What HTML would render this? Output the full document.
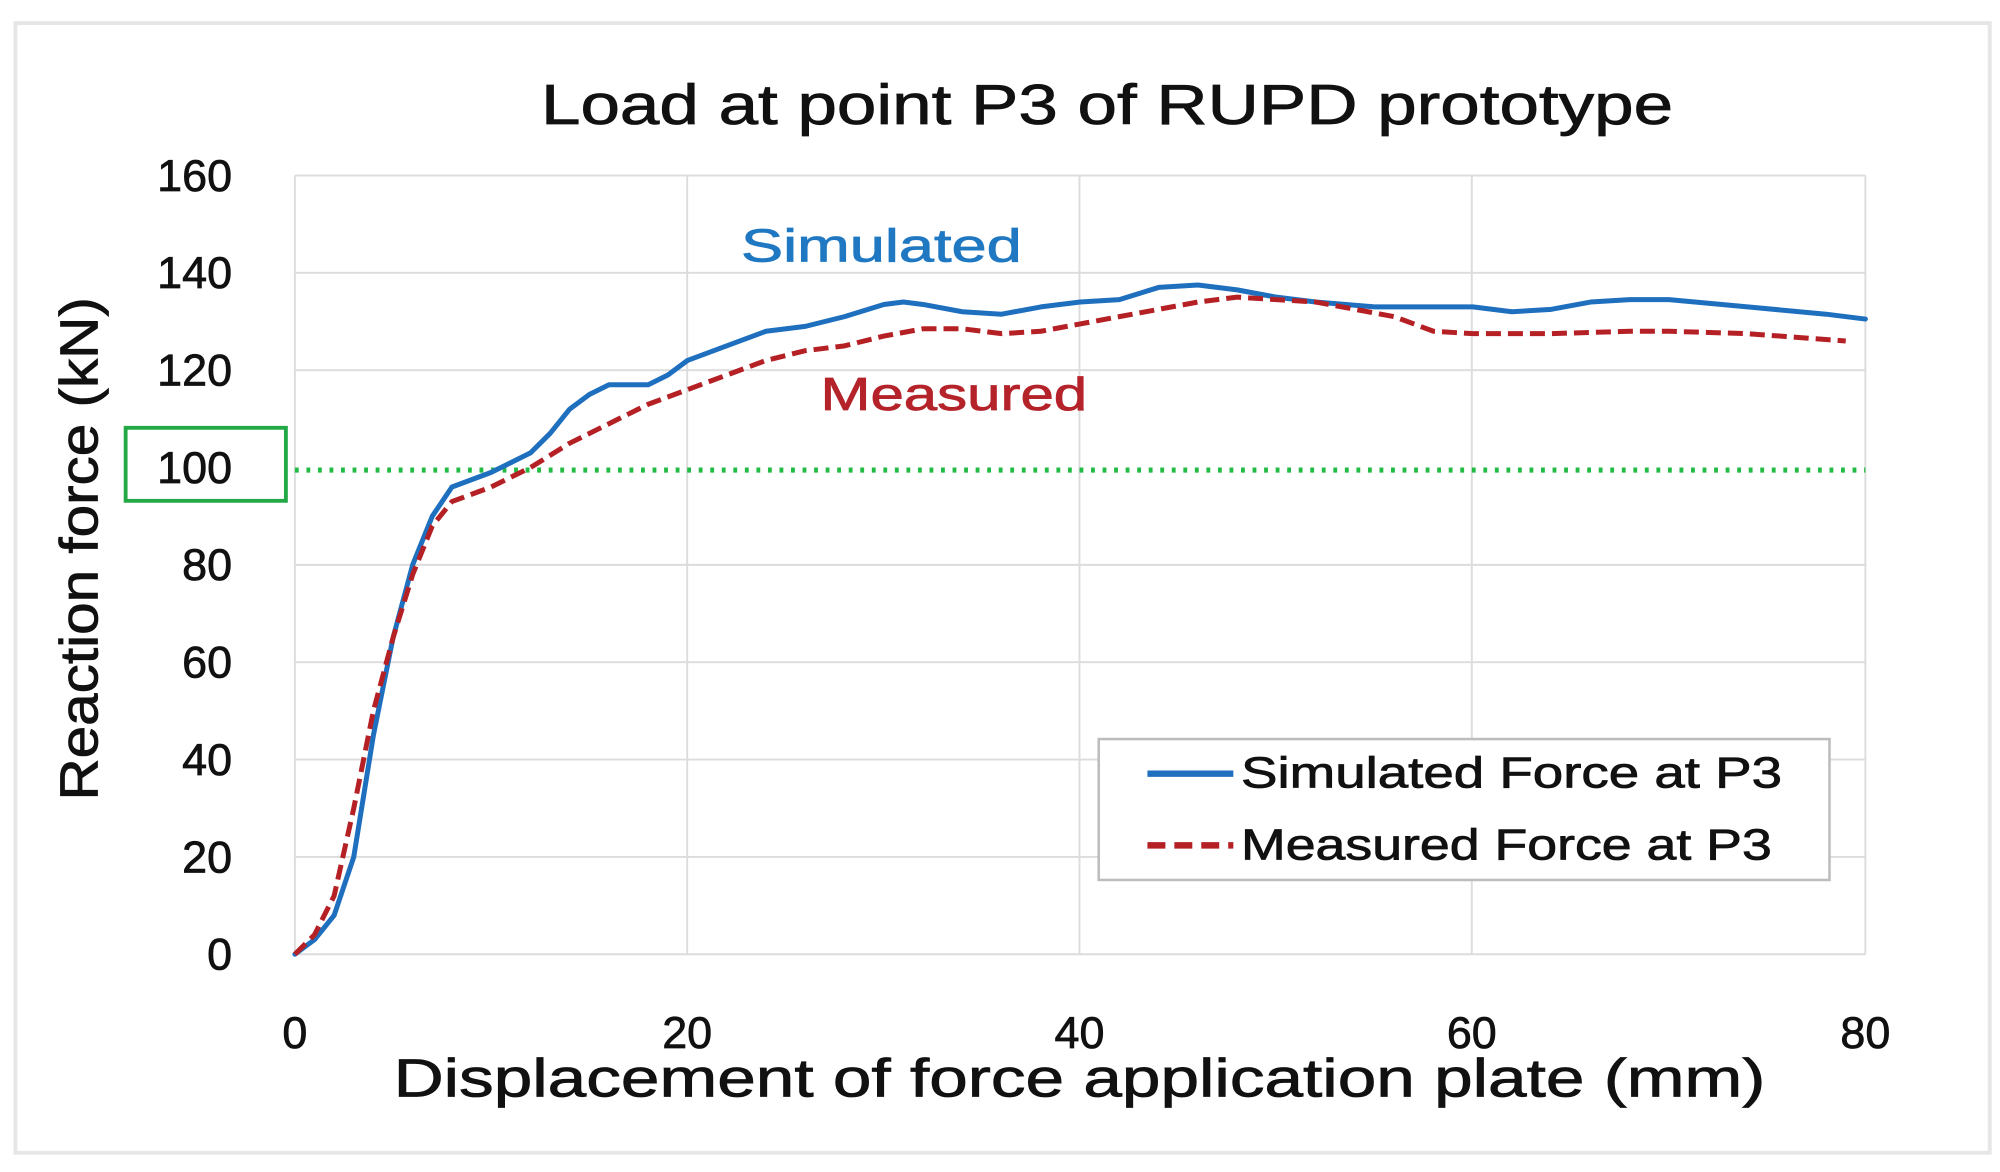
<!DOCTYPE html>
<html><head><meta charset="utf-8"><style>
html,body{margin:0;padding:0;background:#fff;}
svg{display:block;}
text{font-family:"Liberation Sans",sans-serif;stroke-width:0.6;}
</style></head><body>
<svg width="2000" height="1172" viewBox="0 0 1560 915" preserveAspectRatio="none">
<rect x="0" y="0" width="1560" height="915" fill="#fff"/>
<rect x="12" y="18" width="1540" height="882" fill="none" stroke="#e6e6e6" stroke-width="3"/>
<text x="422" y="97" font-size="44" textLength="883" lengthAdjust="spacingAndGlyphs" fill="#111" stroke="#111">Load at point P3 of RUPD prototype</text>
<g stroke="#dcdcdc" stroke-width="1.5">
<line x1="230" y1="137" x2="1455" y2="137"/><line x1="230" y1="213" x2="1455" y2="213"/>
<line x1="230" y1="289" x2="1455" y2="289"/><line x1="230" y1="441" x2="1455" y2="441"/>
<line x1="230" y1="517" x2="1455" y2="517"/><line x1="230" y1="593" x2="1455" y2="593"/>
<line x1="230" y1="669" x2="1455" y2="669"/><line x1="230" y1="745" x2="1455" y2="745"/>
<line x1="230" y1="137" x2="230" y2="745"/><line x1="536" y1="137" x2="536" y2="745"/>
<line x1="842" y1="137" x2="842" y2="745"/><line x1="1148" y1="137" x2="1148" y2="745"/>
<line x1="1455" y1="137" x2="1455" y2="745"/>
</g>
<g font-size="35" text-anchor="end" fill="#111" stroke="#111">
<text x="181" y="149">160</text><text x="181" y="225">140</text><text x="181" y="301">120</text>
<text x="181" y="377">100</text><text x="181" y="453">80</text><text x="181" y="529">60</text>
<text x="181" y="605">40</text><text x="181" y="681">20</text><text x="181" y="757">0</text>
</g>
<g font-size="35" text-anchor="middle" fill="#111" stroke="#111">
<text x="230" y="818">0</text><text x="536" y="818">20</text><text x="842" y="818">40</text>
<text x="1148" y="818">60</text><text x="1455" y="818">80</text>
</g>
<text x="307" y="856" font-size="42" textLength="1070" lengthAdjust="spacingAndGlyphs" fill="#111" stroke="#111">Displacement of force application plate (mm)</text>
<text transform="translate(76,625) rotate(-90)" font-size="42" textLength="393" lengthAdjust="spacingAndGlyphs" fill="#111" stroke="#111">Reaction force (kN)</text>
<rect x="98" y="334" width="125" height="57" fill="none" stroke="#22a845" stroke-width="3"/>
<line x1="230" y1="367" x2="1455" y2="367" stroke="#22bb44" stroke-width="4" stroke-dasharray="3,6"/>
<g transform="translate(230,745) scale(15.3125,-3.8)" fill="none">
<polyline vector-effect="non-scaling-stroke" stroke="#1f6fbf" stroke-width="5" stroke-linejoin="round" stroke-linecap="round" points="0,0 1,3 2,8 3,20 4,45 5,65 6,80 7,90 8,96 10,99 12,103 13,107 14,112 15,115 16,117 18,117 19,119 20,122 22,125 24,128 26,129 28,131 30,133.5 31,134 32,133.5 34,132 36,131.5 38,133 40,134 42,134.5 44,137 46,137.5 48,136.5 50,135 52,134 55,133 60,133 62,132 64,132.5 66,134 68,134.5 70,134.5 74,133 78,131.5 80,130.5"/>
<polyline vector-effect="non-scaling-stroke" stroke="#b52025" stroke-width="5" stroke-dasharray="15,7" stroke-linejoin="round" points="0,0 1,4 2,12 3,30 4,50 5,65 6,78 7,88 8,93 10,96 12,100 14,105 16,109 18,113 20,116 22,119 24,122 26,124 28,125 30,127 32,128.5 34,128.5 36,127.5 38,128 40,129.5 42,131 44,132.5 46,134 48,135 50,134.5 52,134 54,132.5 56,131 58,128 60,127.5 64,127.5 68,128 70,128 74,127.5 79,126"/>
</g>
<text x="578" y="204" font-size="36" textLength="219" lengthAdjust="spacingAndGlyphs" fill="#1f78c1" stroke="#1f78c1">Simulated</text>
<text x="640" y="320" font-size="36" textLength="208" lengthAdjust="spacingAndGlyphs" fill="#b5232a" stroke="#b5232a">Measured</text>
<rect x="857" y="577" width="570" height="110" fill="#fff" stroke="#bdbdbd" stroke-width="2"/>
<line x1="895" y1="604" x2="962" y2="604" stroke="#1f6fbf" stroke-width="5"/>
<line x1="895" y1="660" x2="962" y2="660" stroke="#b52025" stroke-width="5" stroke-dasharray="14,7"/>
<text x="968" y="615" font-size="34" textLength="422" lengthAdjust="spacingAndGlyphs" fill="#111" stroke="#111">Simulated Force at P3</text>
<text x="968" y="671" font-size="34" textLength="414" lengthAdjust="spacingAndGlyphs" fill="#111" stroke="#111">Measured Force at P3</text>
</svg>
</body></html>
